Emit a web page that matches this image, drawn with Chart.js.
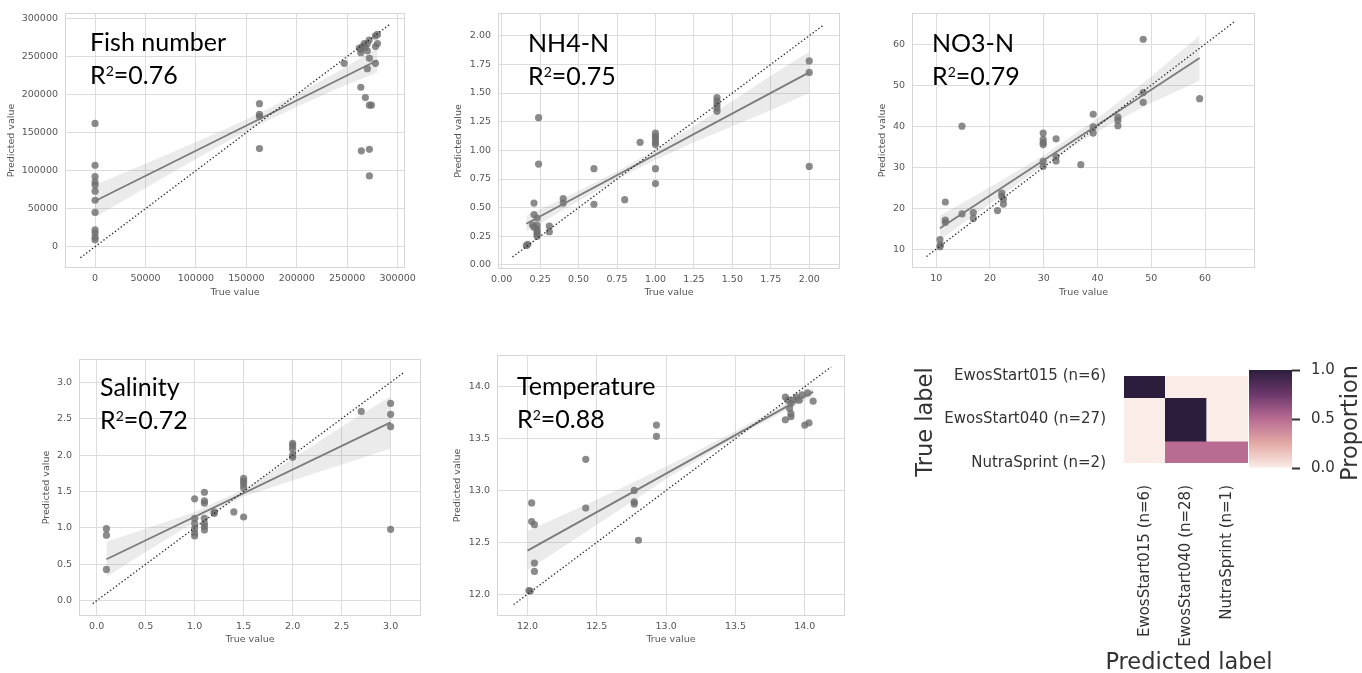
<!DOCTYPE html>
<html lang="en">
<head>
<meta charset="UTF-8">
<title>Predicted vs true values</title>
<script src="https://cdn.jsdelivr.net/npm/chart.js"></script>
<style>
  body { margin: 0; width: 1362px; height: 673px; overflow: hidden; background: #fff; position: relative; }
  canvas { position: absolute; }
  .note { position: absolute; font-family: Lato, "Open Sans", sans-serif; font-size: 25px; line-height: 33px; color: #000; white-space: nowrap; }
  .note .sup { font-size: 14px; position: relative; top: -8px; }
</style>
</head>
<body>
<canvas id="fish"></canvas>
<canvas id="nh4"></canvas>
<canvas id="no3"></canvas>
<canvas id="sal"></canvas>
<canvas id="temp"></canvas>
<canvas id="heat"></canvas>
<canvas id="cbar"></canvas>

<div class="note" style="left:90px; top:25px">Fish number<br>R<span class="sup">2</span>=0.76</div>
<div class="note" style="left:528px; top:26px">NH4-N<br>R<span class="sup">2</span>=0.75</div>
<div class="note" style="left:932px; top:26px">NO3-N<br>R<span class="sup">2</span>=0.79</div>
<div class="note" style="left:100px; top:370px">Salinity<br>R<span class="sup">2</span>=0.72</div>
<div class="note" style="left:517px; top:369px">Temperature<br>R<span class="sup">2</span>=0.88</div>

<script>
// ---- data ----
// Fish number
const fishTrue = [0, 0, 0, 0, 0, 0, 0, 0, 0, 0, 0, 0, 163000, 163000, 163000, 163000, 247000,
  262000, 263500, 265000, 267000, 268000, 270000, 271800, 278000, 280000,
  280000, 278000, 270000, 263500, 272000, 278000, 270000, 263500, 268000, 272000, 274000, 264000, 272000, 272000];
const fishPred = [162000, 107000, 92000, 85000, 81000, 73000, 61000, 45000, 22000, 18000, 12500, 9000, 188000, 174000, 171000, 129000, 241000,
  261000, 259000, 263000, 267000, 262000, 267000, 271600, 277000, 279000,
  267000, 263000, 257500, 255000, 247600, 241000, 234000, 209500, 196000, 186000, 186000, 126000, 128000, 93000];
const fishFitX = [0, 280000];
const fishFitY = [60000, 245000];
const fishBandX = [0, 40000, 80000, 120000, 160000, 200000, 240000, 280000];
const fishBandLo = [39000, 69500, 100000, 130000, 158500, 184000, 207500, 229000];
const fishBandHi = [81000, 103500, 126000, 149000, 173500, 200500, 229500, 261000];
const fishDiag = [-14500, 292000];
const fishTicks = [0, 50000, 100000, 150000, 200000, 250000, 300000];

// NH4-N
const nh4True = [0.16, 0.17, 0.2, 0.21, 0.21, 0.21, 0.23, 0.23, 0.23, 0.23, 0.23, 0.23, 0.24, 0.24, 0.31, 0.31, 0.4, 0.4,
  0.6, 0.6, 0.8, 0.9, 1, 1, 1, 1, 1, 1, 1, 1.4, 1.4, 1.4, 1.4, 1.4, 2, 2, 2];
const nh4Pred = [0.17, 0.18, 0.35, 0.33, 0.44, 0.54, 0.29, 0.25, 0.27, 0.31, 0.345, 0.41, 0.88, 1.285, 0.34, 0.29, 0.58, 0.54,
  0.84, 0.53, 0.57, 1.07, 1.15, 1.12, 1.10, 1.07, 1.05, 0.84, 0.71, 1.46, 1.43, 1.40, 1.37, 1.34, 1.78, 1.68, 0.86];
const nh4FitX = [0.16, 2.0];
const nh4FitY = [0.36, 1.68];
const nh4BandX = [0.16, 0.4, 0.6, 0.8, 1.0, 1.25, 1.5, 1.75, 2.0];
const nh4BandLo = [0.29, 0.48, 0.634, 0.782, 0.916, 1.07, 1.21, 1.35, 1.50];
const nh4BandHi = [0.43, 0.58, 0.714, 0.852, 1.006, 1.21, 1.43, 1.65, 1.86];
const nh4Diag = [0.07, 2.09];
const nh4Ticks = [0, 0.25, 0.5, 0.75, 1.0, 1.25, 1.5, 1.75, 2.0];

// NO3-N
const no3True = [10.7, 10.8, 10.7, 11.7, 11.7, 11.7, 14.8, 14.8, 16.9, 16.9, 21.4, 22.2, 22.2, 22.5, 22.5,
  29.9, 29.9, 29.9, 29.9, 29.9, 29.9, 32.3, 32.3, 32.3, 36.9, 39.2, 39.2, 39.2, 43.8, 43.8, 43.8, 48.5, 48.5, 48.5, 59];
const no3Pred = [12.3, 11.0, 10.6, 21.5, 17.1, 16.5, 40.0, 18.6, 18.9, 17.5, 19.4, 23.7, 22.9, 22.2, 21.0,
  38.3, 36.8, 36.0, 35.5, 31.4, 30.2, 36.9, 32.6, 31.5, 30.6, 42.9, 39.8, 38.3, 42.2, 41.4, 40.1, 61.2, 48.2, 45.8, 46.7];
const no3FitX = [10.7, 59];
const no3FitY = [15.1, 56.6];
const no3BandX = [10.7, 20, 30, 40, 50, 59];
const no3BandLo = [12.2, 21.1, 30.5, 38.7, 45.7, 51.1];
const no3BandHi = [18.2, 25.1, 32.9, 41.9, 52.1, 62.1];
const no3Diag = [8.2, 65.5];
const no3Ticks = [10, 20, 30, 40, 50, 60];

// Salinity
const salTrue = [0.1, 0.1, 0.1, 1, 1, 1, 1, 1, 1, 1.1, 1.1, 1.1, 1.1, 1.1, 1.1, 1.1, 1.2, 1.2, 1.4,
  1.5, 1.5, 1.5, 1.5, 1.5, 2, 2, 2, 2, 2, 2.7, 3, 3, 3, 3];
const salPred = [0.99, 0.90, 0.43, 1.40, 1.13, 1.06, 0.99, 0.93, 0.89, 1.49, 1.37, 1.34, 1.13, 1.06, 1.02, 0.97, 1.20, 1.22, 1.22,
  1.15, 1.68, 1.64, 1.60, 1.55, 2.16, 2.13, 2.08, 2.00, 1.97, 2.60, 2.71, 2.56, 2.39, 0.98];
const salFitX = [0.1, 3.0];
const salFitY = [0.57, 2.45];
const salBandX = [0.1, 0.5, 1.0, 1.5, 2.0, 2.5, 3.0];
const salBandLo = [0.33, 0.67, 1.08, 1.43, 1.65, 1.87, 2.09];
const salBandHi = [0.81, 0.99, 1.22, 1.53, 1.95, 2.39, 2.81];
const salDiag = [-0.04, 3.14];
const salTicks = [0, 0.5, 1.0, 1.5, 2.0, 2.5, 3.0];

// Temperature
const tempTrue = [12.01, 12.02, 12.03, 12.03, 12.05, 12.05, 12.05, 12.42, 12.42, 12.77, 12.77, 12.77, 12.8, 12.93, 12.93,
  13.86, 13.88, 13.9, 13.89, 13.9, 13.86, 13.94, 13.98, 14.02, 14.06, 14.0, 14.03, 13.92, 13.96, 13.9];
const tempPred = [12.035, 12.03, 12.88, 12.7, 12.67, 12.3, 12.22, 13.3, 12.83, 13.0, 12.89, 12.87, 12.52, 13.63, 13.52,
  13.9, 13.87, 13.84, 13.79, 13.74, 13.68, 13.9, 13.92, 13.94, 13.86, 13.63, 13.65, 13.87, 13.87, 13.71];
const tempFitX = [12.0, 14.06];
const tempFitY = [12.42, 13.95];
const tempBandX = [12.0, 12.5, 13.0, 13.5, 14.06];
const tempBandLo = [12.23, 12.67, 13.11, 13.51, 13.91];
const tempBandHi = [12.61, 12.91, 13.23, 13.57, 13.99];
const tempDiag = [11.9, 14.19];
const tempTicks = [12.0, 12.5, 13.0, 13.5, 14.0];

// confusion matrix (rows = true label, cols = predicted label)
const predLabels = ['EwosStart015 (n=6)', 'EwosStart040 (n=28)', 'NutraSprint (n=1)'];
const trueLabels = ['EwosStart015 (n=6)', 'EwosStart040 (n=27)', 'NutraSprint (n=2)'];
const proportions = [[1, 0, 0], [0, 1, 0], [0, 0.5, 0.5]];
const cbarTicks = [0, 0.5, 1];

// ---- styling ----
Chart.defaults.font.family = '"DejaVu Sans", sans-serif';
Chart.defaults.animation = false;
Chart.defaults.events = [];

const tickColor = '#555';
const gridColor = '#dddddd';
const labelColor = '#333';
const bigFont = '22.5px "DejaVu Sans"';
const heatStops = [[0, [250, 237, 232]], [0.25, [228, 170, 165]], [0.5, [184, 108, 146]], [0.75, [108, 56, 108]], [1, [44, 29, 61]]];

function heatColor(v) {
  for (let i = 1; i < heatStops.length; i++) {
    const [p1, c1] = heatStops[i], [p0, c0] = heatStops[i - 1];
    if (v <= p1) {
      const t = (v - p0) / (p1 - p0);
      return 'rgb(' + c0.map((c, k) => Math.round(c + (c1[k] - c) * t)).join(',') + ')';
    }
  }
  return 'rgb(' + heatStops[heatStops.length - 1][1].join(',') + ')';
}

const pts = (xs, ys) => xs.map((x, i) => ({x: x, y: ys[i]}));

// draw a text label, optionally rotated to read bottom-to-top
function label(c, text, x, y, rotated) {
  c.save();
  c.translate(x, y);
  if (rotated) c.rotate(-Math.PI / 2);
  c.font = bigFont;
  c.fillStyle = labelColor;
  c.textAlign = 'center';
  c.textBaseline = 'alphabetic';
  c.fillText(text, 0, 0);
  c.restore();
}

// light frame around the plotting area (seaborn whitegrid spines)
const frame = {
  id: 'frame',
  beforeDatasetsDraw(chart) {
    const a = chart.chartArea, c = chart.ctx;
    c.save();
    c.strokeStyle = '#d6d6d6';
    c.lineWidth = 1;
    c.strokeRect(Math.round(a.left) + 0.5, Math.round(a.top) + 0.5, Math.round(a.width) - 1, Math.round(a.height) - 1);
    c.restore();
  }
};

function scatterPanel(id, box, p) {
  const cv = document.getElementById(id);
  const padR = 22;
  const left = box.yTitleX - 8, top = box.t - 8;
  const width = box.r + padR - left, height = box.xTitleY + 10 - top;
  cv.width = width; cv.height = height;
  cv.style.left = left + 'px'; cv.style.top = top + 'px';
  const fmt = v => v.toFixed(p.dec);

  const axis = (ticks, lo, hi, title, isX) => ({
    type: 'linear',
    position: isX ? 'bottom' : 'left',
    min: lo, max: hi,
    afterBuildTicks: s => { s.ticks = ticks.map(v => ({value: v})); },
    afterFit: s => {
      if (isX) { s.height = box.xTitleY + 10 - box.b; s.paddingLeft = 0; s.paddingRight = 0; }
      else { s.width = box.l - left; s.paddingTop = 0; s.paddingBottom = 0; }
    },
    ticks: {callback: fmt, color: tickColor, font: {size: 9.5}, padding: isX ? 5.3 : 7, autoSkip: false, maxRotation: 0},
    grid: {color: gridColor, lineWidth: 1, drawTicks: false},
    border: {display: false},
    title: {display: true, text: title, color: tickColor, font: {size: 9.5},
            padding: isX ? {top: 0, bottom: 4.3} : {top: 2.3, bottom: 0}}
  });

  return new Chart(cv, {
    type: 'scatter',
    data: {
      datasets: [
        {type: 'line', data: pts(p.bandX, p.bandHi), borderWidth: 0, pointRadius: 0, fill: '+1',
         backgroundColor: 'rgba(128,128,128,0.16)', order: 5},
        {type: 'line', data: pts(p.bandX, p.bandLo), borderWidth: 0, pointRadius: 0, fill: false, order: 5},
        {type: 'scatter', data: pts(p.xs, p.ys), pointRadius: 3.6, borderWidth: 0,
         backgroundColor: 'rgba(110,110,110,0.8)', order: 3},
        {type: 'line', data: pts(p.fitX, p.fitY), borderColor: '#7b7b7b', borderWidth: 1.8, pointRadius: 0, order: 2},
        {type: 'line', data: pts(p.diag, p.diag), borderColor: '#2a2a2a', borderWidth: 1.3,
         borderDash: [1.4, 2.2], pointRadius: 0, order: 1}
      ]
    },
    options: {
      responsive: false,
      layout: {padding: {left: 0, top: 8, right: padR, bottom: 0}},
      plugins: {legend: {display: false}, tooltip: {enabled: false}},
      scales: {
        x: axis(p.xTicks, p.xMin, p.xMax, 'True value', true),
        y: axis(p.yTicks, p.yMin, p.yMax, 'Predicted value', false)
      }
    },
    plugins: [frame]
  });
}

scatterPanel('fish', {l: 65, r: 405, t: 13, b: 268, yTitleX: 12, xTitleY: 293}, {
  xs: fishTrue, ys: fishPred, fitX: fishFitX, fitY: fishFitY, bandX: fishBandX, bandLo: fishBandLo, bandHi: fishBandHi,
  diag: fishDiag, xTicks: fishTicks, yTicks: fishTicks, dec: 0,
  xMin: -29800, xMax: 307300, yMin: -28000, yMax: 307100
});
scatterPanel('nh4', {l: 498, r: 840, t: 13, b: 269, yTitleX: 459, xTitleY: 293}, {
  xs: nh4True, ys: nh4Pred, fitX: nh4FitX, fitY: nh4FitY, bandX: nh4BandX, bandLo: nh4BandLo, bandHi: nh4BandHi,
  diag: nh4Diag, xTicks: nh4Ticks, yTicks: nh4Ticks, dec: 2,
  xMin: -0.024, xMax: 2.2, yMin: -0.035, yMax: 2.198
});
scatterPanel('no3', {l: 912, r: 1255, t: 13, b: 268, yTitleX: 883, xTitleY: 293}, {
  xs: no3True, ys: no3Pred, fitX: no3FitX, fitY: no3FitY, bandX: no3BandX, bandLo: no3BandLo, bandHi: no3BandHi,
  diag: no3Diag, xTicks: no3Ticks, yTicks: no3Ticks, dec: 0,
  xMin: 5.5, xMax: 69.3, yMin: 5.4, yMax: 67.6
});
scatterPanel('sal', {l: 79, r: 421, t: 359, b: 616, yTitleX: 47, xTitleY: 640}, {
  xs: salTrue, ys: salPred, fitX: salFitX, fitY: salFitY, bandX: salBandX, bandLo: salBandLo, bandHi: salBandHi,
  diag: salDiag, xTicks: salTicks, yTicks: salTicks, dec: 1,
  xMin: -0.18, xMax: 3.31, yMin: -0.21, yMax: 3.32
});
scatterPanel('temp', {l: 497, r: 845, t: 355, b: 616, yTitleX: 458, xTitleY: 640}, {
  xs: tempTrue, ys: tempPred, fitX: tempFitX, fitY: tempFitY, bandX: tempBandX, bandLo: tempBandLo, bandHi: tempBandHi,
  diag: tempDiag, xTicks: tempTicks, yTicks: tempTicks, dec: 1,
  xMin: 11.78, xMax: 14.29, yMin: 11.79, yMax: 14.305
});

// ---- confusion matrix heatmap ----
const heatCv = document.getElementById('heat');
heatCv.width = 400; heatCv.height = 318;
heatCv.style.left = '890px'; heatCv.style.top = '355px';

// axis titles drawn by hand so they are not squeezed to the axis length
const heatTitles = {
  id: 'heatTitles',
  afterDraw(chart) {
    label(chart.ctx, 'Predicted label', 299, 314, false);
    label(chart.ctx, 'True label', 42, 67, true);
  }
};

new Chart(heatCv, {
  type: 'bar',
  data: {
    labels: predLabels,
    datasets: proportions.map(row => ({
      data: row.map(() => 1),
      backgroundColor: row.map(heatColor),
      borderWidth: 0,
      barPercentage: 1,
      categoryPercentage: 1,
      clip: 0
    }))
  },
  options: {
    responsive: false,
    layout: {padding: {left: 0, top: 21, right: 42, bottom: 0}},
    plugins: {legend: {display: false}, tooltip: {enabled: false}},
    scales: {
      x: {
        stacked: true,
        grid: {display: false, drawTicks: false},
        border: {display: false},
        ticks: {minRotation: 90, maxRotation: 90, padding: 22, autoSkip: false, color: labelColor, font: {size: 15}},
        afterFit: s => { s.height = 210; s.paddingLeft = 0; s.paddingRight = 0; }
      },
      y: {
        stacked: true,
        reverse: true,
        min: 0.5, max: 2.5,
        afterBuildTicks: s => { s.ticks = trueLabels.map((_, i) => ({value: i + 0.5})); },
        grid: {display: false, drawTicks: false},
        border: {display: false},
        ticks: {callback: (v, i) => trueLabels[i], padding: 18, autoSkip: false, color: labelColor, font: {size: 15}},
        afterFit: s => { s.width = 234; s.paddingTop = 0; s.paddingBottom = 0; }
      }
    }
  },
  plugins: [heatTitles]
});

// ---- colour bar ----
const cbarCv = document.getElementById('cbar');
cbarCv.width = 122; cbarCv.height = 130;
cbarCv.style.left = '1240px'; cbarCv.style.top = '355px';

const cbarTitle = {
  id: 'cbarTitle',
  afterDraw(chart) {
    label(chart.ctx, 'Proportion', 117, 68, true);
  }
};

new Chart(cbarCv, {
  type: 'bar',
  data: {
    labels: [''],
    datasets: [{
      data: [cbarTicks[cbarTicks.length - 1]],
      borderWidth: 0,
      barPercentage: 1,
      categoryPercentage: 1,
      backgroundColor: ctx => {
        const a = ctx.chart.chartArea;
        if (!a) return heatColor(0.5);
        const g = ctx.chart.ctx.createLinearGradient(0, a.bottom, 0, a.top);
        heatStops.forEach(s => g.addColorStop(s[0], 'rgb(' + s[1].join(',') + ')'));
        return g;
      }
    }]
  },
  options: {
    responsive: false,
    layout: {padding: {left: 9, top: 15, right: 0, bottom: 17}},
    plugins: {legend: {display: false}, tooltip: {enabled: false}},
    scales: {
      x: {display: false},
      y: {
        position: 'right',
        min: 0, max: 1,
        afterBuildTicks: s => { s.ticks = cbarTicks.map(v => ({value: v})); },
        afterFit: s => { s.width = 70; s.paddingTop = 0; s.paddingBottom = 0; },
        grid: {drawOnChartArea: false, drawTicks: true, tickLength: 8, tickWidth: 2, tickColor: '#333'},
        border: {display: false},
        ticks: {callback: v => v.toFixed(1), padding: 11, color: labelColor, font: {size: 15}}
      }
    }
  },
  plugins: [cbarTitle]
});
</script>
</body>
</html>
